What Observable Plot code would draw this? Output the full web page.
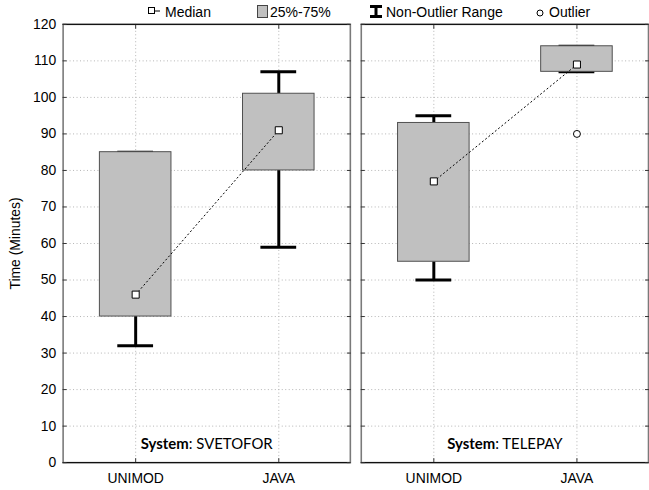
<!DOCTYPE html>
<html>
<head>
<meta charset="utf-8">
<script src="https://cdn.jsdelivr.net/npm/d3@7"></script>
<script src="https://cdn.jsdelivr.net/npm/@observablehq/plot@0.6"></script>
<style>
  html, body { margin: 0; padding: 0; background: white; overflow: hidden; }
  #wrap { position: relative; width: 649px; height: 490px; overflow: hidden; font-family: "Liberation Sans", Arial, sans-serif; }
  #legend { position: absolute; left: 0; top: 0; width: 649px; height: 20px; font-size: 14px; color: black; z-index: 2; }
  #legend .item { position: absolute; top: 4px; line-height: 16px; white-space: nowrap; }
  #legend svg { position: absolute; overflow: visible; }
  #chart svg { display: block; }
</style>
</head>
<body>
<div id="wrap">
  <div id="chart"></div>
  <div id="legend">
    <svg style="left:147px;top:6px" width="14" height="10"><line x1="8" y1="5" x2="13" y2="5" stroke="black"/><rect x="1.5" y="1.5" width="6" height="6" fill="white" stroke="black"/></svg>
    <span class="item" style="left:165px">Median</span>
    <svg style="left:257px;top:5px" width="12" height="13"><rect x="0.5" y="0.5" width="10" height="12" fill="#c0c0c0" stroke="#444"/></svg>
    <span class="item" style="left:270px">25%-75%</span>
    <svg style="left:369px;top:5px" width="14" height="13"><line x1="1" y1="1.5" x2="13" y2="1.5" stroke="black" stroke-width="3"/><line x1="7" y1="1.5" x2="7" y2="11.5" stroke="black" stroke-width="3"/><line x1="1" y1="11.5" x2="13" y2="11.5" stroke="black" stroke-width="3"/></svg>
    <span class="item" style="left:386px">Non-Outlier Range</span>
    <svg style="left:536px;top:9px" width="8" height="8"><circle cx="4" cy="4" r="3" fill="white" stroke="black"/></svg>
    <span class="item" style="left:549px">Outlier</span>
  </div>
</div>
<script>
// ---- data ----
const systems = ["SVETOFOR", "TELEPAY"];
const methods = ["UNIMOD", "JAVA"];
const boxSystem = ["SVETOFOR", "SVETOFOR", "TELEPAY", "TELEPAY"];
const boxMethod = ["UNIMOD", "JAVA", "UNIMOD", "JAVA"];
const medianValues = [46, 91, 77, 109];
const q1Values = [40, 80, 55, 107];
const q3Values = [85, 101, 93, 114];
const whiskerLow = [32, 59, 50, 107];
const whiskerHigh = [85, 107, 95, 114];
const outlierSystem = ["TELEPAY"];
const outlierMethod = ["JAVA"];
const outlierValues = [90];
const yTicks = [0, 10, 20, 30, 40, 50, 60, 70, 80, 90, 100, 110, 120];
const yGrid = [10, 20, 30, 40, 50, 60, 70, 80, 90, 100, 110];

const rows = boxSystem.map((s, i) => ({
  system: s, method: boxMethod[i], median: medianValues[i],
  q1: q1Values[i], q3: q3Values[i], low: whiskerLow[i], high: whiskerHigh[i]
}));
const outliers = outlierValues.map((v, i) => ({system: outlierSystem[i], method: outlierMethod[i], value: v}));

const chart = Plot.plot({
  width: 653,
  height: 490,
  marginLeft: 62,
  marginRight: 0,
  marginTop: 24,
  marginBottom: 25,
  style: {fontFamily: "'Liberation Sans', Arial, sans-serif", fontSize: "14px", color: "black", background: "white"},
  fx: {domain: systems, paddingInner: 0.0365, paddingOuter: 0, axis: null, label: null},
  x: {domain: methods, paddingInner: 0.5, paddingOuter: 0.25, label: null},
  y: {domain: [0, 120]},
  marks: [
    Plot.ruleY(yGrid, {stroke: "#b4b4b4", strokeDasharray: "1,2.5"}),
    Plot.ruleX(methods, {x: d => d, stroke: "#b4b4b4", strokeDasharray: "1,2.5"}),
    Plot.ruleX(rows, {fx: "system", x: "method", y1: "q3", y2: "high", stroke: "black", strokeWidth: 3}),
    Plot.ruleX(rows, {fx: "system", x: "method", y1: "low", y2: "q1", stroke: "black", strokeWidth: 3}),
    Plot.tickY(rows, {fx: "system", x: "method", y: "high", stroke: "black", strokeWidth: 3, insetLeft: 18, insetRight: 18}),
    Plot.tickY(rows, {fx: "system", x: "method", y: "low", stroke: "black", strokeWidth: 3, insetLeft: 18, insetRight: 18}),
    Plot.barY(rows, {fx: "system", x: "method", y1: "q1", y2: "q3", fill: "#c0c0c0", stroke: "#505050", strokeWidth: 1}),
    Plot.line(rows, {fx: "system", x: "method", y: "median", stroke: "black", strokeWidth: 1, strokeDasharray: "1.2,3"}),
    Plot.dot(rows, {fx: "system", x: "method", y: "median", symbol: "square", r: 4, fill: "white", stroke: "black", strokeWidth: 1}),
    Plot.dot(outliers, {fx: "system", x: "method", y: "value", r: 3.5, fill: "white", stroke: "black", strokeWidth: 1}),
    Plot.frame({stroke: "#7a7a7a", strokeWidth: 1.6}),
    Plot.ruleY([0, 120], {stroke: "black", strokeWidth: 1}),
    Plot.axisY(yTicks, {anchor: "left", facetAnchor: null, tickSize: -4, tickFormat: () => "", label: null, stroke: "#333"}),
    Plot.axisY(yTicks, {anchor: "right", facetAnchor: null, tickSize: -4, tickFormat: () => "", label: null, stroke: "#333"}),
    Plot.axisX(methods, {anchor: "bottom", facetAnchor: null, tickSize: -4, tickFormat: () => "", label: null, stroke: "#333"}),
    Plot.axisX(methods, {anchor: "top", facetAnchor: null, tickSize: -4, tickFormat: () => "", label: null, stroke: "#333"}),
    Plot.axisY(yTicks, {anchor: "left", tickSize: 0, tickPadding: 7, label: "Time (Minutes)", labelAnchor: "center", labelOffset: 53, labelArrow: "none", fontSize: 14}),
    Plot.axisX(methods, {anchor: "bottom", tickSize: 0, tickPadding: 11, label: null, fontSize: 14}),
    Plot.text(systems, {fx: d => d, text: d => "System: " + d, frameAnchor: "bottom", dy: -14, fontFamily: "Lato, 'Noto Sans', sans-serif", fontSize: 15, fill: "black"})
  ]
});

d3.select(chart).selectAll("text").each(function() {
  const t = this.textContent;
  if (!t.startsWith("System:")) return;
  const idx = t.indexOf(":");
  const sel = d3.select(this);
  sel.selectAll("*").remove();
  sel.text(null);
  sel.append("tspan").attr("font-weight", "bold").text(t.slice(0, idx));
  sel.append("tspan").text(t.slice(idx));
});

document.getElementById("chart").appendChild(chart);
</script>
</body>
</html>
